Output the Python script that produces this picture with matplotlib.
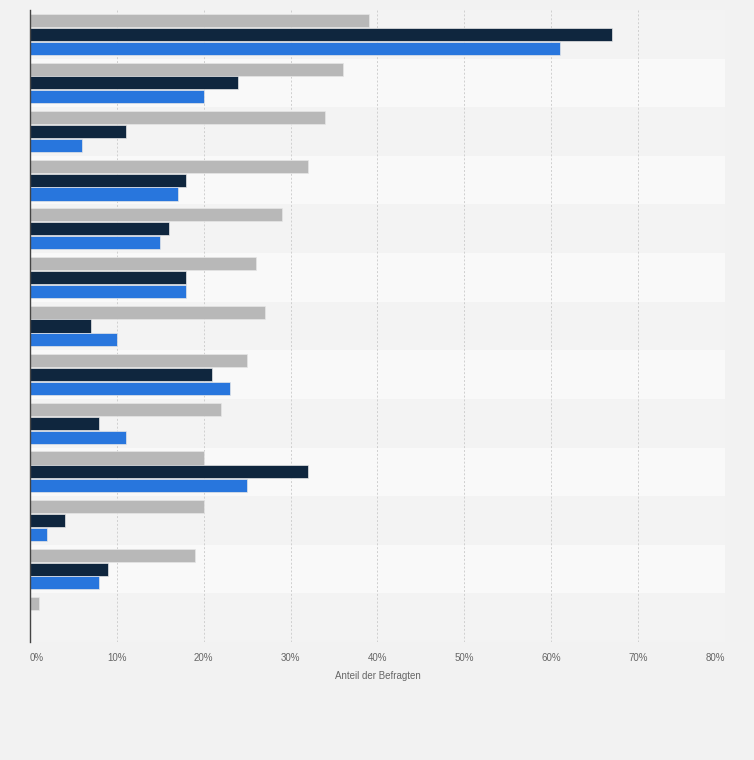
import matplotlib
matplotlib.use("Agg")
import matplotlib.pyplot as plt
import numpy as np

categories = [f"Kategorie {i+1}" for i in range(13)]
series_gray = [39, 36, 34, 32, 29, 26, 27, 25, 22, 20, 20, 19, 1]
series_navy = [67, 24, 11, 18, 16, 18, 7, 21, 8, 32, 4, 9, 0]
series_blue = [61, 20, 6, 17, 15, 18, 10, 23, 11, 25, 2, 8, 0]
xticks = [0, 10, 20, 30, 40, 50, 60, 70, 80]
xtick_labels = ["0%", "10%", "20%", "30%", "40%", "50%", "60%", "70%", "80%"]
xlabel = "Anteil der Befragten"

colors = ["#b8b8b8", "#0f263e", "#2876dd"]
plt.rcParams["font.family"] = ["Liberation Sans", "DejaVu Sans"]

fig = plt.figure(figsize=(7.54, 7.6), dpi=100)
fig.patch.set_facecolor("#f2f2f2")
ax = fig.add_axes([30/754, (760-642)/760, (725-30)/754, (642-10)/760])
ax.set_facecolor("#f2f2f2")

n = len(categories)
y = np.arange(n)
for i in range(n):
    ax.axhspan(i - 0.5, i + 0.5, color="#f3f3f3" if i % 2 == 0 else "#f9f9f9", zorder=0, lw=0)

h = 0.268
off = 0.285
for vals, c, o in zip([series_gray, series_navy, series_blue], colors, [-off, 0, off]):
    vals = np.asarray(vals, dtype=float)
    lw = np.where(vals > 0, 0.5, 0.0)
    ax.barh(y + o, vals, height=h, color=c, edgecolor="#e6e6e6", linewidth=lw, zorder=3)

ax.set_xlim(0, 80)
ax.set_ylim(n - 0.5, -0.5)
ax.set_yticks([])
ax.set_xticks(xticks)
lbls = ax.set_xticklabels(xtick_labels, fontsize=7, color="#666666")
lbls[0].set_ha("left")
lbls[-1].set_ha("right")
ax.tick_params(axis="x", length=0, pad=8)
ax.grid(axis="x", color="#cfcfcf", linestyle=(0, (2, 2)), linewidth=0.7, zorder=1)
ax.set_axisbelow(True)
for s in ["top", "right", "bottom"]:
    ax.spines[s].set_visible(False)
ax.spines["left"].set_color("#444444")
ax.spines["left"].set_linewidth(1)
ax.spines["left"].set_zorder(5)
ax.set_xlabel(xlabel, fontsize=7, color="#666666", labelpad=6)

fig.savefig("out.png", dpi=100, facecolor=fig.get_facecolor())
